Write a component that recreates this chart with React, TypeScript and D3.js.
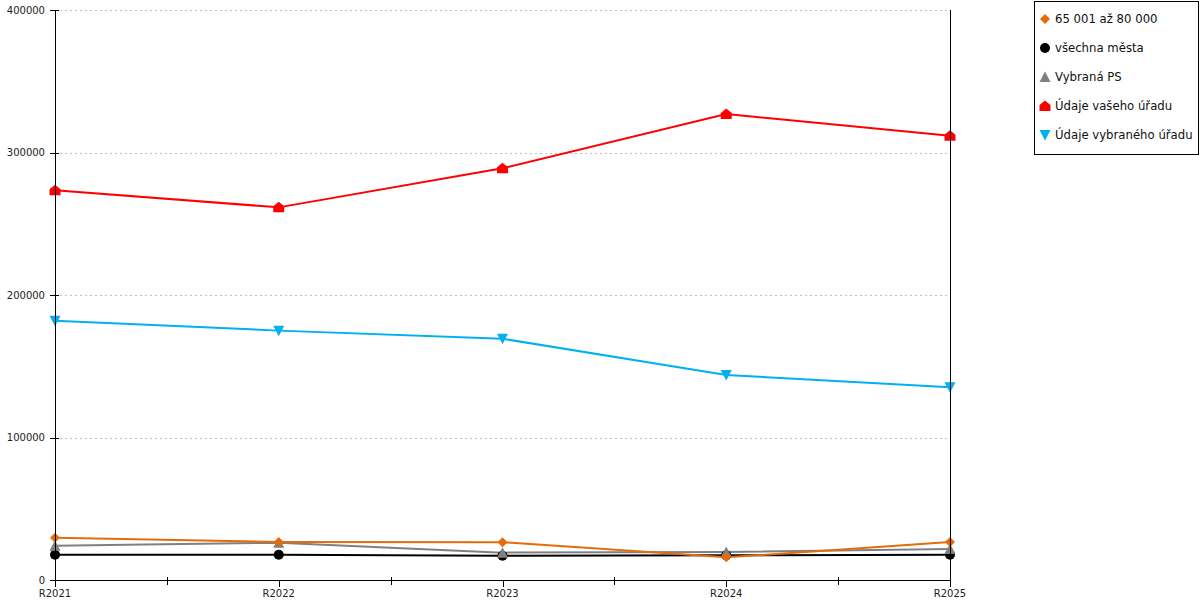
import React from "react";
import * as d3 from "d3";

const categories = ["R2021", "R2022", "R2023", "R2024", "R2025"];
const seriesNames = ["65 001 až 80 000", "všechna města", "Vybraná PS", "Údaje vašeho úřadu", "Údaje vybraného úřadu"];
const orangeValues = [29700, 26700, 26500, 15900, 26700];
const blackValues = [17700, 17700, 17000, 17300, 17700];
const grayValues = [24100, 26200, 19200, 19700, 21800];
const redValues = [273500, 261500, 288900, 327000, 311800];
const blueValues = [182000, 175000, 169300, 143900, 135200];
const yTicks = [0, 100000, 200000, 300000, 400000];

const colors = ["#e46c0a", "#000000", "#808080", "#ff0000", "#00b0f0"];
const shapes = ["diamond", "circle", "triangle", "house", "down"];
const allValues = [orangeValues, blackValues, grayValues, redValues, blueValues];

const W = 1200, H = 600;
const left = 55, right = 950, top = 10, bottom = 580;

function Marker({ shape, x, y, color }: { shape: string; x: number; y: number; color: string }) {
  if (shape === "circle") return <circle cx={x} cy={y} r={5} fill={color} />;
  let pts: number[][] = [];
  if (shape === "diamond") pts = [[0, -5], [5, 0], [0, 5], [-5, 0]];
  if (shape === "triangle") pts = [[0, -5.5], [5.5, 5], [-5.5, 5]];
  if (shape === "down") pts = [[-5.5, -5], [5.5, -5], [0, 5.5]];
  if (shape === "house") pts = [[0, -5.5], [5.5, -1], [5.5, 5], [-5.5, 5], [-5.5, -1]];
  return <polygon points={pts.map(p => `${x + p[0]},${y + p[1]}`).join(" ")} fill={color} />;
}

const c = (v: number) => Math.round(v) + 0.5;

export default function App() {
  const x = d3.scalePoint<string>().domain(categories).range([left, right]);
  const y = d3.scaleLinear().domain([0, 400000]).range([bottom, top]);
  const line = d3.line<number>().x((_, i) => x(categories[i]) as number).y(d => y(d));
  const drawOrder = [1, 2, 0, 3, 4];
  const minor = categories.slice(0, -1).map((cat, i) => ((x(cat) as number) + (x(categories[i + 1]) as number)) / 2);
  const font = "'DejaVu Sans', Verdana, sans-serif";

  return (
    <svg width={W} height={H} style={{ position: "absolute", left: 0, top: 0, background: "#fff" }} fontFamily={font}>
      {yTicks.filter(t => t > 0).map(t => (
        <line key={"g" + t} x1={left} x2={right} y1={c(y(t))} y2={c(y(t))} stroke="#c0c0c0" strokeDasharray="2,3" />
      ))}
      {drawOrder.map(si => (
        <path key={"l" + si} d={line(allValues[si]) || ""} fill="none" stroke={colors[si]} strokeWidth={2} />
      ))}
      {drawOrder.map(si =>
        allValues[si].map((v, i) => (
          <Marker key={`m${si}-${i}`} shape={shapes[si]} x={x(categories[i]) as number} y={y(v)} color={colors[si]} />
        ))
      )}
      <line x1={c(left)} x2={c(left)} y1={top} y2={bottom} stroke="#000" />
      <line x1={c(right)} x2={c(right)} y1={top} y2={bottom + 7} stroke="#000" />
      <line x1={left} x2={right} y1={c(bottom)} y2={c(bottom)} stroke="#000" />
      {yTicks.map(t => (
        <g key={"y" + t}>
          <line x1={left - 5} x2={left + 4} y1={c(y(t))} y2={c(y(t))} stroke="#000" />
          <text x={left - 10} y={y(t)} dy="0.35em" textAnchor="end" fontSize={10} fill="#222">{t}</text>
        </g>
      ))}
      {categories.map(cat => (
        <g key={"x" + cat}>
          <line x1={c(x(cat) as number)} x2={c(x(cat) as number)} y1={bottom} y2={bottom + 7} stroke="#000" />
          <text x={x(cat)} y={597} textAnchor="middle" fontSize={10} fill="#222">{cat}</text>
        </g>
      ))}
      {minor.map((m, i) => (
        <line key={"mn" + i} x1={c(m)} x2={c(m)} y1={bottom - 3} y2={bottom + 5} stroke="#000" />
      ))}
      <rect x={1034.5} y={1.5} width={164} height={153} fill="#fff" stroke="#000" />
      {seriesNames.map((n, i) => (
        <g key={"lg" + i}>
          <Marker shape={shapes[i]} x={1045} y={19 + i * 29} color={colors[i]} />
          <text x={1055} y={19 + i * 29} dy="0.35em" fontSize={11.7} fill="#111">{n}</text>
        </g>
      ))}
    </svg>
  );
}
